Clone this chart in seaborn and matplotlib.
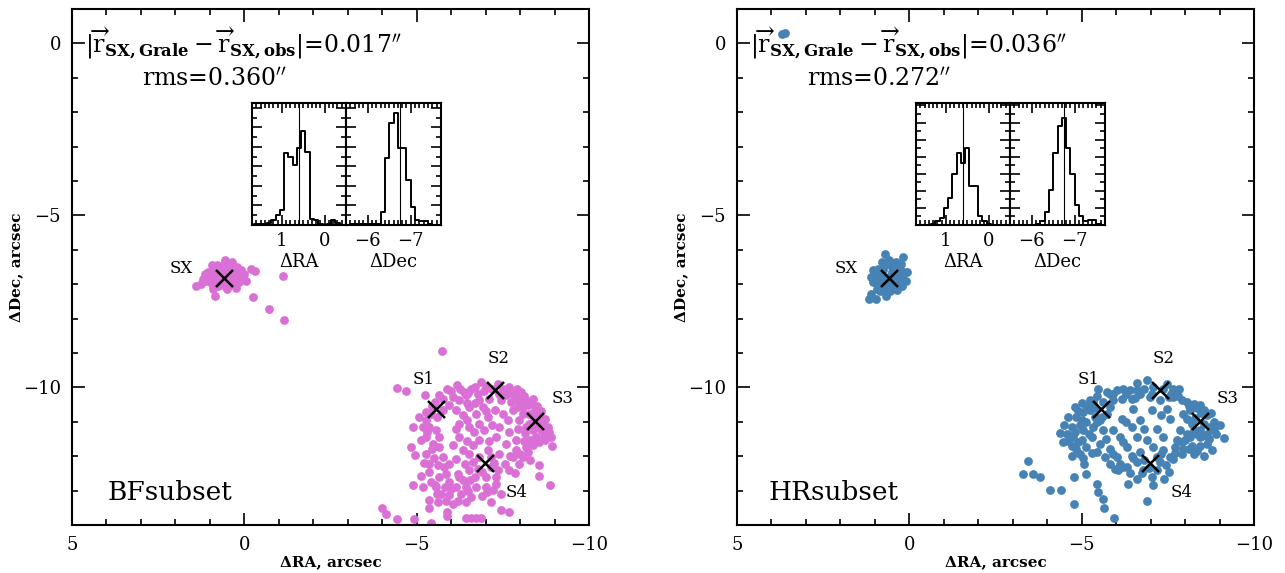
import numpy as np
import pandas as pd
import matplotlib
matplotlib.use("Agg")
import matplotlib.pyplot as plt
from matplotlib.ticker import MultipleLocator
import seaborn as sns

# observed image positions (arcsec)
img_names = ["SX", "S1", "S2", "S3", "S4"]
img_ra = [0.58, -5.57, -7.26, -8.43, -6.98]
img_dec = [-6.81, -10.62, -10.08, -10.97, -12.20]
lab_ra = [1.84, -5.20, -7.38, -9.24, -7.91]
lab_dec = [-6.55, -9.78, -9.17, -10.33, -13.06]

# BFsubset model image positions
bf_ra = [
    -5.74, -4.42, -4.69, -5.23,
    -5.66, -5.87, -6.16, -6.36, -6.58, -6.68, -6.87, -7.01, -7.35, -7.50, -7.69, -7.79, -8.03, -8.37, -8.18, -7.88,
    -7.59, -6.77, -6.43, -6.05, -5.76,
    -5.06, -4.89, -5.27, -5.42, -5.52, -5.76, -5.37, -5.56, -5.27, -5.13, -5.66, -4.84, -4.94, -5.66, -5.37, -5.61,
    -5.13, -4.89, -5.37, -5.66, -5.52, -5.81, -5.71, -5.37, -5.61, -5.95, -5.85, -5.95, -6.19, -6.14, -6.29, -6.34,
    -6.53, -6.43, -6.58, -6.72, -6.68, -6.77, -7.01, -7.16, -7.30, -7.01, -7.21, -7.45, -7.16, -7.45, -7.69, -5.87,
    -5.87, -5.37, -6.43, -6.58, -6.72, -6.87, -5.42, -4.00, -4.11, -4.43, -4.92,
    -6.14, -6.34, -6.53, -6.72, -6.92, -7.06, -6.24, -6.53, -6.82, -6.24, -6.05, -6.34, -6.53, -6.63, -6.82, -7.06,
    -7.40, -7.59, -7.30, -7.40, -7.64, -7.50, -7.79, -7.26, -7.69, -7.88, -7.79, -7.55, -7.98, -7.88, -8.18,
    -8.08, -8.27, -8.56, -8.71, -8.80, -8.90, -8.92, -8.61, -8.37, -8.18, -7.98, -8.46, -8.27, -8.56, -8.56, -8.88,
    -8.13, -8.42, -7.93,
    -7.74, -7.98, -8.22, -8.71, -8.76, -8.37, -8.08, -7.45, -7.11, -6.82, -6.24, -5.95, -5.27, -5.18, -5.47, -5.27,
    -5.76, -5.95, -6.14, -6.39, -6.63, -6.82, -6.24, -6.43, -6.05, -5.56, -5.18, -5.42, -7.16, -7.30, -7.69, -8.08,
    -8.22, -8.37, -8.71,
    -6.00, -6.25, -6.50, -6.95, -7.20, -7.40, -7.65, -7.90, -8.10, -8.30, -8.50, -8.60, -8.45, -8.65, -8.50, -8.85,
    -8.70, -8.55, -8.40, -8.10, -7.95, -8.25,
    -5.45, -5.60, -5.30, -5.45, -5.50, -5.20, -5.80, -5.60, -5.85, -6.20, -6.00, -6.50, -6.90, -7.05, -6.90, -6.55,
    -6.45, -6.70, -7.00, -6.45, -6.65, -6.95, -7.20, -7.10, -6.15, -6.45, -7.70, -7.35, -7.85, -8.30, -8.00, -7.25,
    # SX
    0.60, 0.40, 0.80, 0.50, 0.70, 0.90, 0.30, 0.20, 1.00, 1.10, 0.95, 0.75, 0.55, 0.35, 0.15, 0.05, 0.45, 0.65, 0.85,
    0.60, 0.80, 0.40, 0.20, 1.05, 1.20, 1.25, 0.10, 0.00, -0.05, 0.25, 0.50, 0.90, 0.70, 0.30, 0.50, 0.75, 0.95, 0.55,
    0.35, 1.15,
    1.40, 0.84, -0.19, -0.32, -0.24, -0.71, -1.11, -1.14,
]
bf_dec = [
    -8.94, -10.02, -10.11, -10.23,
    -10.23, -10.06, -9.94, -10.13, -10.06, -9.99, -9.84, -9.99, -9.89, -10.04, -9.99, -10.18, -10.13, -10.33, -10.37,
    -10.28, -10.23, -10.18, -10.23, -10.28, -10.33,
    -10.86, -11.15, -10.96, -10.76, -10.42, -10.67, -11.15, -11.25, -11.44, -11.54, -11.44, -11.73, -11.97, -11.73,
    -12.22, -12.26, -12.58, -12.85, -12.46, -12.60, -12.85, -12.89, -13.09, -13.28, -13.33, -13.14, -12.51, -12.75,
    -12.51, -12.89, -13.09, -12.70, -12.41, -13.33, -13.18, -12.89, -12.60, -12.36, -12.60, -12.31, -12.60, -12.89,
    -12.99, -13.09, -13.33, -13.55, -13.62, -13.62, -13.73, -13.52, -13.80, -13.80, -13.80, -13.80, -13.95, -13.50,
    -13.69, -13.84, -13.84,
    -10.67, -10.81, -10.57, -10.76, -10.57, -10.86, -11.05, -11.15, -11.05, -11.44, -11.68, -11.83, -11.93, -11.68,
    -11.54, -11.83, -11.93, -11.64, -11.44, -11.15, -10.96, -10.76, -10.67, -10.67, -11.30, -11.54, -12.02, -12.22,
    -12.22, -11.83, -11.73,
    -10.57, -10.76, -10.86, -11.15, -11.15, -11.44, -11.71, -11.25, -11.25, -11.15, -10.96, -11.44, -11.54, -12.26,
    -12.58, -12.85, -11.34, -10.67, -10.57,
    -10.42, -10.42, -10.52, -10.91, -11.34, -11.00, -10.76, -10.37, -10.33, -10.37, -10.37, -10.52, -10.71, -11.15,
    -11.64, -11.93, -12.02, -12.22, -12.07, -12.22, -12.17, -12.02, -12.60, -12.89, -13.38, -12.89, -12.89, -12.75,
    -12.02, -12.80, -12.41, -12.02, -11.88, -11.68, -11.54,
    -10.10, -10.05, -10.15, -10.10, -10.05, -10.20, -10.15, -10.05, -10.25, -10.45, -10.55, -10.70, -10.85, -11.00,
    -11.10, -11.30, -11.40, -11.60, -11.50, -11.55, -11.20, -11.05,
    -10.55, -10.85, -11.30, -11.80, -12.05, -12.20, -12.30, -13.10, -13.30, -13.30, -12.95, -13.00, -13.15, -13.05,
    -12.45, -12.70,
    -10.45, -10.45, -10.70, -10.95, -11.30, -11.25, -11.10, -11.55, -11.20, -11.55, -12.00, -12.40, -12.50, -12.10,
    -11.95, -12.20,
    # SX
    -6.80, -6.75, -6.80, -6.55, -6.55, -6.60, -6.60, -6.75, -6.80, -6.90, -7.00, -7.05, -7.05, -7.00, -6.95, -6.80,
    -6.95, -6.95, -6.90, -6.40, -6.45, -6.45, -6.50, -6.65, -6.85, -7.00, -6.60, -6.70, -6.90, -7.10, -7.15, -7.15,
    -6.65, -6.85, -6.70, -6.75, -6.45, -6.30, -6.35, -6.70,
    -7.06, -7.35, -6.55, -6.62, -7.37, -7.73, -6.77, -8.05,
]

# HRsubset model image positions
hr_ra = [
    -5.82, -6.02, -6.21, -6.40, -6.60, -6.89, -7.08, -7.47, -7.66, -7.81, -7.52, -7.28, -6.99, -6.69, -6.45, -6.16,
    -5.92, -5.63, -5.34, -5.19, -5.73, -6.60, -7.66, -7.91,
    -4.85, -5.05, -5.24, -5.39, -5.14, -4.95, -4.71, -4.56, -4.76, -5.05, -5.34, -5.53, -5.73, -5.82, -5.63, -5.29,
    -5.00, -4.71, -5.14, -5.53, -5.44, -4.95, -4.61, -5.24, -4.81,
    -8.05, -8.25, -8.44, -8.54, -8.15, -7.95, -8.05, -8.20, -8.63, -8.73, -9.02, -9.14, -8.83, -8.63, -8.44, -8.25,
    -8.05, -7.86, -8.44, -8.20, -7.95, -7.66, -8.78, -8.54, -8.25, -7.91, -8.44, -8.63, -8.00, -7.71,
    -6.16, -6.50, -6.69, -7.03, -7.18, -7.47, -7.57, -6.45, -5.92, -6.11, -6.31, -6.60, -6.89, -7.08, -7.37, -6.69,
    -6.45, -6.02, -5.82, -6.11, -6.31, -6.60, -7.18, -7.37, -7.52, -7.03, -6.79, -7.08, -6.60, -6.35, -6.21, -5.82,
    -5.68, -5.97, -7.28, -7.57, -7.76,
    -3.45, -3.30, -3.58, -3.79, -4.08, -4.39, -4.79, -5.65, -5.94, -6.89, -4.78, -5.12, -5.08, -4.73, -4.37, -4.47,
    -5.48, -5.00, -5.46, -5.61, -5.45,
    -5.45, -5.90, -6.30, -6.55, -6.80, -7.05, -7.35, -7.60, -7.80, -8.10, -8.35, -8.45, -8.30, -8.55, -8.85, -8.90,
    -8.70, -8.35, -8.15, -8.35, -8.10, -7.90, -8.50, -8.75,
    -4.90, -5.15, -5.40, -5.60, -5.45, -4.80, -4.60, -4.90, -5.20, -5.30, -5.05, -4.85, -4.50, -5.70, -5.00,
    -6.30, -6.80, -7.30, -6.20, -6.50, -6.80, -6.95, -7.20, -7.45, -7.30, -7.70, -6.75, -6.40, -7.40, -6.05, -5.90,
    # SX
    0.60, 0.40, 0.80, 0.50, 0.70, 0.90, 0.30, 0.20, 1.00, 1.05, 0.90, 0.70, 0.50, 0.30, 0.15, 0.10, 0.45, 0.65, 0.85,
    0.60, 0.80, 0.40, 0.25, 1.05, 0.95, 0.55, 0.75, 0.35, 0.50, 0.85, 0.20, 1.10,
    0.72, 0.19, 1.17, 0.96, 1.11, 0.67, 0.36, 0.07,
    3.62, 3.68,
]
hr_dec = [
    -10.18, -10.09, -10.04, -10.09, -9.87, -9.78, -9.99, -9.89, -10.04, -10.04, -10.28, -10.38, -10.28, -10.18,
    -10.33, -10.33, -10.38, -10.43, -10.43, -10.52, -10.14, -10.09, -10.28, -10.38,
    -10.86, -10.72, -10.67, -10.86, -11.01, -11.10, -11.15, -11.35, -11.44, -11.25, -11.15, -10.96, -10.77, -10.57,
    -11.25, -11.44, -11.54, -11.69, -11.73, -11.64, -11.88, -11.93, -10.86, -10.38, -10.57,
    -10.43, -10.48, -10.52, -10.67, -10.67, -10.77, -10.91, -11.06, -10.81, -11.15, -11.10, -11.46, -11.25, -11.35,
    -11.44, -11.25, -11.35, -11.25, -11.69, -11.69, -11.78, -12.07, -11.83, -11.98, -11.93, -11.93, -11.25, -11.64,
    -11.54, -11.73,
    -10.91, -10.62, -10.96, -10.67, -11.20, -10.62, -10.91, -11.15, -11.25, -11.44, -11.73, -11.44, -11.54, -11.73,
    -11.44, -11.88, -11.98, -12.03, -12.22, -12.22, -12.32, -12.17, -12.03, -11.83, -12.46, -12.61, -12.41, -12.85,
    -12.65, -12.80, -12.32, -11.78, -12.03, -12.36, -12.17, -12.03, -11.54,
    -12.14, -12.51, -12.51, -12.61, -12.97, -12.97, -13.40, -13.50, -13.79, -13.30, -12.61, -12.51, -12.24, -11.98,
    -11.32, -11.59, -10.04, -10.46, -13.04, -13.24, -12.82,
    -10.25, -10.20, -10.20, -10.30, -10.05, -10.20, -10.05, -10.20, -10.25, -10.55, -10.60, -10.75, -10.90, -11.05,
    -11.00, -11.35, -11.50, -11.35, -11.45, -11.85, -11.80, -11.60, -11.40, -10.75,
    -10.70, -10.55, -10.60, -10.85, -11.00, -11.30, -11.55, -11.60, -11.35, -11.90, -12.05, -11.80, -11.10, -11.50,
    -10.95,
    -11.00, -11.20, -10.80, -11.60, -12.05, -12.10, -12.35, -12.40, -12.25, -11.95, -11.90, -12.50, -12.50, -12.65,
    -12.40, -11.95,
    # SX
    -6.80, -6.70, -6.75, -6.50, -6.45, -6.55, -6.55, -6.80, -6.75, -6.95, -7.05, -7.10, -7.05, -6.95, -6.65, -6.90,
    -6.90, -6.95, -6.90, -6.30, -6.35, -6.35, -6.40, -6.60, -7.15, -7.20, -6.60, -6.85, -6.65, -7.20, -7.05, -6.80,
    -6.13, -6.21, -7.42, -7.42, -7.28, -7.33, -7.16, -6.65,
    0.30, 0.26,
]

# SX histograms (bin centres, 0.1" bins)
ra_centres = [1.7 - 0.1 * i for i in range(23)]
dec_centres = [-5.55 - 0.1 * i for i in range(22)]
bf_ra_counts = [0, 1, 1, 1, 2, 4, 8, 12, 59, 56, 49, 63, 77, 60, 5, 4, 1, 0, 1, 4, 2, 0, 0]
bf_dec_counts = [0, 1, 1, 1, 1, 1, 1, 1, 11, 55, 84, 92, 63, 63, 37, 15, 4, 3, 3, 1, 0, 0]
hr_ra_counts = [0, 0, 0, 0, 1, 3, 6, 14, 22, 42, 59, 51, 63, 32, 32, 7, 3, 1, 0, 0, 0, 0, 0]
hr_dec_counts = [0, 0, 0, 0, 0, 0, 1, 3, 11, 29, 59, 81, 88, 63, 42, 16, 7, 3, 4, 4, 1, 0]
sx_obs = (0.6, -6.75)

panels = [
    dict(name="BFsubset", ra=bf_ra, dec=bf_dec, color="#DA70D6", dr="0.017", rms="0.360",
         hra=bf_ra_counts, hdec=bf_dec_counts, ytick=16, left=72, inset=252, name_x=3.97),
    dict(name="HRsubset", ra=hr_ra, dec=hr_dec, color="#4682B4", dr="0.036", rms="0.272",
         hra=hr_ra_counts, hdec=hr_dec_counts, ytick=14, left=737, inset=916, name_x=4.10),
]

sns.set_style("ticks")
plt.rcParams["font.family"] = ["DejaVu Serif"]
plt.rcParams["mathtext.fontset"] = "dejavuserif"
plt.rcParams["text.color"] = "black"
plt.rcParams["axes.labelcolor"] = "black"
plt.rcParams["xtick.color"] = "black"
plt.rcParams["ytick.color"] = "black"

W, H = 1285, 573
fig = plt.figure(figsize=(W / 100, H / 100), dpi=100)


def style_axes(ax, major_len=9, minor_len=4.5):
    for sp in ax.spines.values():
        sp.set_linewidth(1.5)
        sp.set_color("black")
    ax.tick_params(which="both", direction="in", top=True, right=True, width=1.2,
                   colors="black", labelcolor="black")
    ax.tick_params(which="major", length=major_len)
    ax.tick_params(which="minor", length=minor_len)


def hist_inset(rect, centres, counts, xlim, obs, xlabel, ytick):
    ax = fig.add_axes(rect)
    df = pd.DataFrame({"pos": centres, "n": counts})
    c = np.array(centres)
    edges = np.sort(np.append(c - 0.05, c.max() + 0.05)).tolist()
    sns.histplot(data=df, x="pos", weights="n", bins=edges, element="step", fill=False,
                 color="black", linewidth=1.4, ax=ax)
    ax.axvline(obs, color="black", linewidth=0.8)
    ax.set_xlim(*xlim)
    ax.set_ylim(0, 100)
    ax.xaxis.set_major_locator(MultipleLocator(1))
    ax.xaxis.set_minor_locator(MultipleLocator(0.1))
    ax.yaxis.set_major_locator(MultipleLocator(ytick))
    ax.yaxis.set_minor_locator(MultipleLocator(ytick / 2))
    ax.set_yticklabels([])
    ax.set_ylabel("")
    style_axes(ax, major_len=7, minor_len=3.5)
    ax.tick_params(axis="x", labelsize=13, pad=5)
    ax.set_xlabel(xlabel, fontsize=13, labelpad=2, color="black")
    return ax


for p in panels:
    ax = fig.add_axes([p["left"] / W, 48 / H, 517 / W, 516 / H])
    sns.scatterplot(x=p["ra"], y=p["dec"], color=p["color"], s=40, linewidth=0, ax=ax, zorder=2)
    sns.scatterplot(x=img_ra, y=img_dec, marker="x", color="black", s=150, linewidth=1.8, ax=ax, zorder=3)
    for n, tx, ty in zip(img_names, lab_ra, lab_dec):
        ax.text(tx, ty, n, fontsize=12, ha="center", va="center", color="black")
    ax.set_xlim(5, -10)
    ax.set_ylim(-14, 1)
    ax.xaxis.set_major_locator(MultipleLocator(5))
    ax.xaxis.set_minor_locator(MultipleLocator(1))
    ax.yaxis.set_major_locator(MultipleLocator(5))
    ax.yaxis.set_minor_locator(MultipleLocator(1))
    style_axes(ax)
    ax.tick_params(labelsize=13, pad=8)
    ax.set_xlabel("ΔRA, arcsec", fontsize=11, fontweight="bold", labelpad=1, color="black")
    ax.set_ylabel("ΔDec, arcsec", fontsize=11, fontweight="bold", labelpad=0, color="black")

    ax.text(4.62, 0.0,
            r"$|\overrightarrow{\mathrm{r}}_{\mathbf{SX,Grale}}-\overrightarrow{\mathrm{r}}_{\mathbf{SX,obs}}|$"
            + "=" + p["dr"] + r"$^{\prime\prime}$",
            fontsize=17, ha="left", va="center", color="black")
    ax.text(2.96, -1.08, "rms=" + p["rms"] + r"$^{\prime\prime}$", fontsize=17, ha="left", va="center",
            color="black")
    ax.text(p["name_x"], -13.05, p["name"], fontsize=19, ha="left", va="center", color="black")

    x0 = p["inset"]
    hist_inset([x0 / W, 348 / H, 94 / W, 122 / H], ra_centres, p["hra"], (1.7, -0.5),
               sx_obs[0], "ΔRA", p["ytick"])
    hist_inset([(x0 + 94) / W, 348 / H, 95 / W, 122 / H], dec_centres, p["hdec"], (-5.5, -7.7),
               sx_obs[1], "ΔDec", p["ytick"])

fig.savefig("out.png", dpi=100)
